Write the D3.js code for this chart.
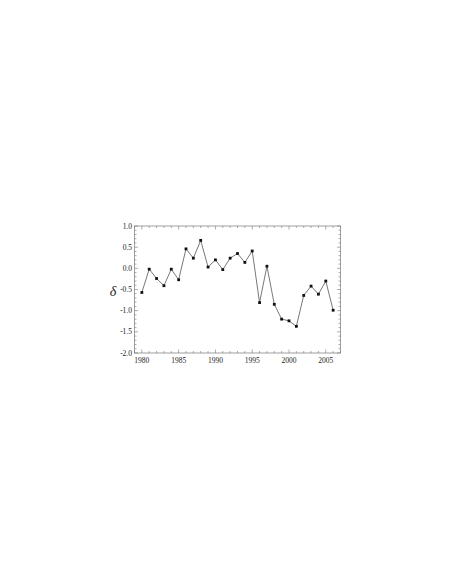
<!DOCTYPE html>
<html>
<head>
<meta charset="utf-8">
<script src="https://cdn.jsdelivr.net/npm/d3@7"></script>
<style>
  body { margin: 0; background: #fff; }
  svg text { font-family: "Liberation Serif", "DejaVu Serif", serif; }
</style>
</head>
<body>
<div id="chart"></div>
<script>
const years = d3.range(1980, 2007);
const delta = [-0.57, -0.02, -0.24, -0.41, -0.02, -0.27, 0.46, 0.24, 0.66, 0.03,
  0.20, -0.03, 0.24, 0.35, 0.14, 0.41, -0.81, 0.05, -0.85, -1.20,
  -1.24, -1.37, -0.64, -0.42, -0.61, -0.30, -0.99];
const xTickLabels = [1980, 1985, 1990, 1995, 2000, 2005];
const yTickLabels = [1.0, 0.5, 0.0, -0.5, -1.0, -1.5, -2.0];

const width = 451, height = 583;
const plotLeft = 134.5, plotRight = 340.5, plotTop = 226, plotBottom = 353;

const svg = d3.select("#chart").append("svg")
  .attr("width", width).attr("height", height);

const x = d3.scaleLinear().domain([1979, 2007]).range([plotLeft, plotRight]);
const y = d3.scaleLinear().domain([-2, 1]).range([plotBottom, plotTop]);

const frameColor = "#777";

// ticks on all four sides, pointing inward
const xMinor = d3.range(1979, 2008);
const yMinor = d3.range(-20, 11).map(d => d / 10);

const g = svg.append("g");
xMinor.forEach(v => {
  const l = v % 5 === 0 ? 3.5 : 2;
  g.append("line").attr("x1", x(v)).attr("x2", x(v)).attr("y1", plotBottom).attr("y2", plotBottom - l)
    .attr("stroke", frameColor).attr("stroke-width", 0.6);
  g.append("line").attr("x1", x(v)).attr("x2", x(v)).attr("y1", plotTop).attr("y2", plotTop + l)
    .attr("stroke", frameColor).attr("stroke-width", 0.6);
});
yMinor.forEach(v => {
  const l = Math.abs(Math.round(v * 10) % 5) === 0 ? 3.5 : 2;
  g.append("line").attr("x1", plotLeft).attr("x2", plotLeft + l).attr("y1", y(v)).attr("y2", y(v))
    .attr("stroke", frameColor).attr("stroke-width", 0.6);
  g.append("line").attr("x1", plotRight).attr("x2", plotRight - l).attr("y1", y(v)).attr("y2", y(v))
    .attr("stroke", frameColor).attr("stroke-width", 0.6);
});

svg.append("rect")
  .attr("x", plotLeft).attr("y", plotTop)
  .attr("width", plotRight - plotLeft).attr("height", plotBottom - plotTop)
  .attr("fill", "none").attr("stroke", frameColor).attr("stroke-width", 0.7);

// tick labels
svg.selectAll(".xl").data(xTickLabels).enter().append("text")
  .attr("x", d => x(d)).attr("y", plotBottom + 10)
  .attr("text-anchor", "middle").attr("font-size", 7.5).attr("fill", "#222")
  .text(d => d);

svg.selectAll(".yl").data(yTickLabels).enter().append("text")
  .attr("x", plotLeft - 2.5).attr("y", d => y(d) + 2.6)
  .attr("text-anchor", "end").attr("font-size", 7.5).attr("fill", "#222")
  .text(d => d.toFixed(1));

svg.append("text")
  .attr("x", 113).attr("y", 296)
  .attr("text-anchor", "middle").attr("font-size", 14)
  .attr("font-style", "italic").attr("fill", "#222")
  .text("δ");

// series
const line = d3.line().x((d, i) => x(years[i])).y(d => y(d));
svg.append("path").datum(delta)
  .attr("d", line).attr("fill", "none")
  .attr("stroke", "#555").attr("stroke-width", 0.8);

svg.selectAll(".pt").data(delta).enter().append("rect")
  .attr("x", (d, i) => x(years[i]) - 1.4).attr("y", d => y(d) - 1.4)
  .attr("width", 2.8).attr("height", 2.8).attr("fill", "#111");
</script>
</body>
</html>
